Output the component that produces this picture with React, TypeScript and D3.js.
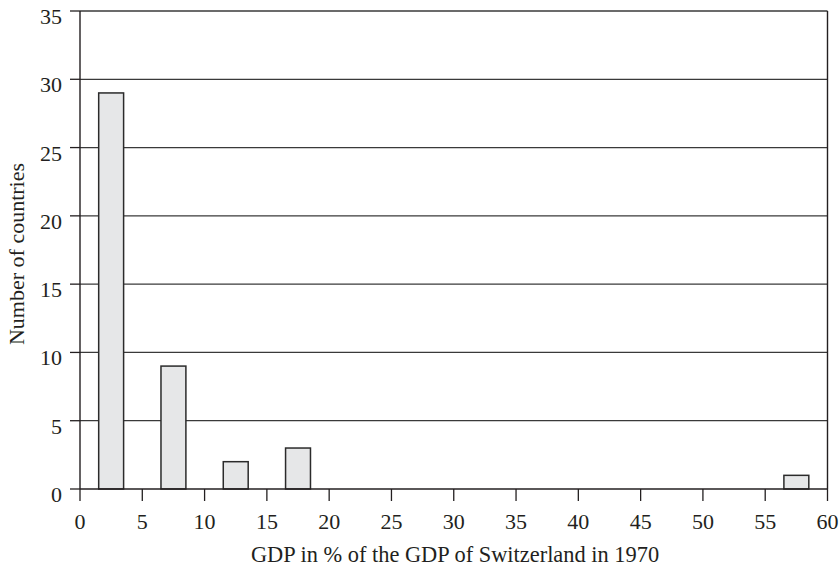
import React from "react";
import * as d3 from "d3";

const binStarts = [1.5, 6.5, 11.5, 16.5, 56.5];
const binEnds = [3.5, 8.5, 13.5, 18.5, 58.5];
const counts = [29, 9, 2, 3, 1];
const xTicks = [0, 5, 10, 15, 20, 25, 30, 35, 40, 45, 50, 55, 60];
const yTicks = [0, 5, 10, 15, 20, 25, 30, 35];
const xTitle = "GDP in % of the GDP of Switzerland in 1970";
const yTitle = "Number of countries";

export default function App() {
  const W = 839, H = 571;
  const left = 80, right = 827.5, top = 11, bottom = 489;
  const x = d3.scaleLinear().domain([0, 60]).range([left, right]);
  const y = d3.scaleLinear().domain([0, 35]).range([bottom, top]);
  const font = "'Liberation Serif', 'DejaVu Serif', serif";
  const axisColor = "#231f20";
  return (
    <svg width={W} height={H} style={{ position: "absolute", left: 0, top: 0 }} fontFamily={font}>
      <rect x={0} y={0} width={W} height={H} fill="#fff" />
      {yTicks.filter(t => t > 0).map(t => (
        <line key={"g" + t} x1={left} x2={right} y1={y(t)} y2={y(t)} stroke="#3a3a3a" strokeWidth={1.3} />
      ))}
      {counts.map((c, i) => (
        <rect key={"b" + i} x={x(binStarts[i])} y={y(c)} width={x(binEnds[i]) - x(binStarts[i])} height={y(0) - y(c)}
          fill="#e6e7e8" stroke="#2b2b2b" strokeWidth={1.5} />
      ))}
      <line x1={left} x2={left} y1={top} y2={bottom} stroke={axisColor} strokeWidth={1.4} />
      <line x1={right} x2={right} y1={top} y2={bottom} stroke={axisColor} strokeWidth={1.4} />
      <line x1={left} x2={right} y1={bottom} y2={bottom} stroke={axisColor} strokeWidth={1.4} />
      {yTicks.map(t => (
        <g key={"y" + t}>
          <line x1={left - 10} x2={left} y1={y(t)} y2={y(t)} stroke={axisColor} strokeWidth={1.3} />
          <text x={62} y={y(t) + 13} textAnchor="end" fontSize={22} fill={axisColor}>{t}</text>
        </g>
      ))}
      {xTicks.map(t => (
        <g key={"x" + t}>
          <line x1={x(t)} x2={x(t)} y1={bottom} y2={bottom + 12} stroke={axisColor} strokeWidth={1.3} />
          <text x={x(t)} y={529} textAnchor="middle" fontSize={22} fill={axisColor}>{t}</text>
        </g>
      ))}
      <text x={455} y={562} textAnchor="middle" fontSize={22.4} fill={axisColor}>{xTitle}</text>
      <text transform={`translate(24, 254) rotate(-90)`} textAnchor="middle" fontSize={22} fill={axisColor}>{yTitle}</text>
    </svg>
  );
}
